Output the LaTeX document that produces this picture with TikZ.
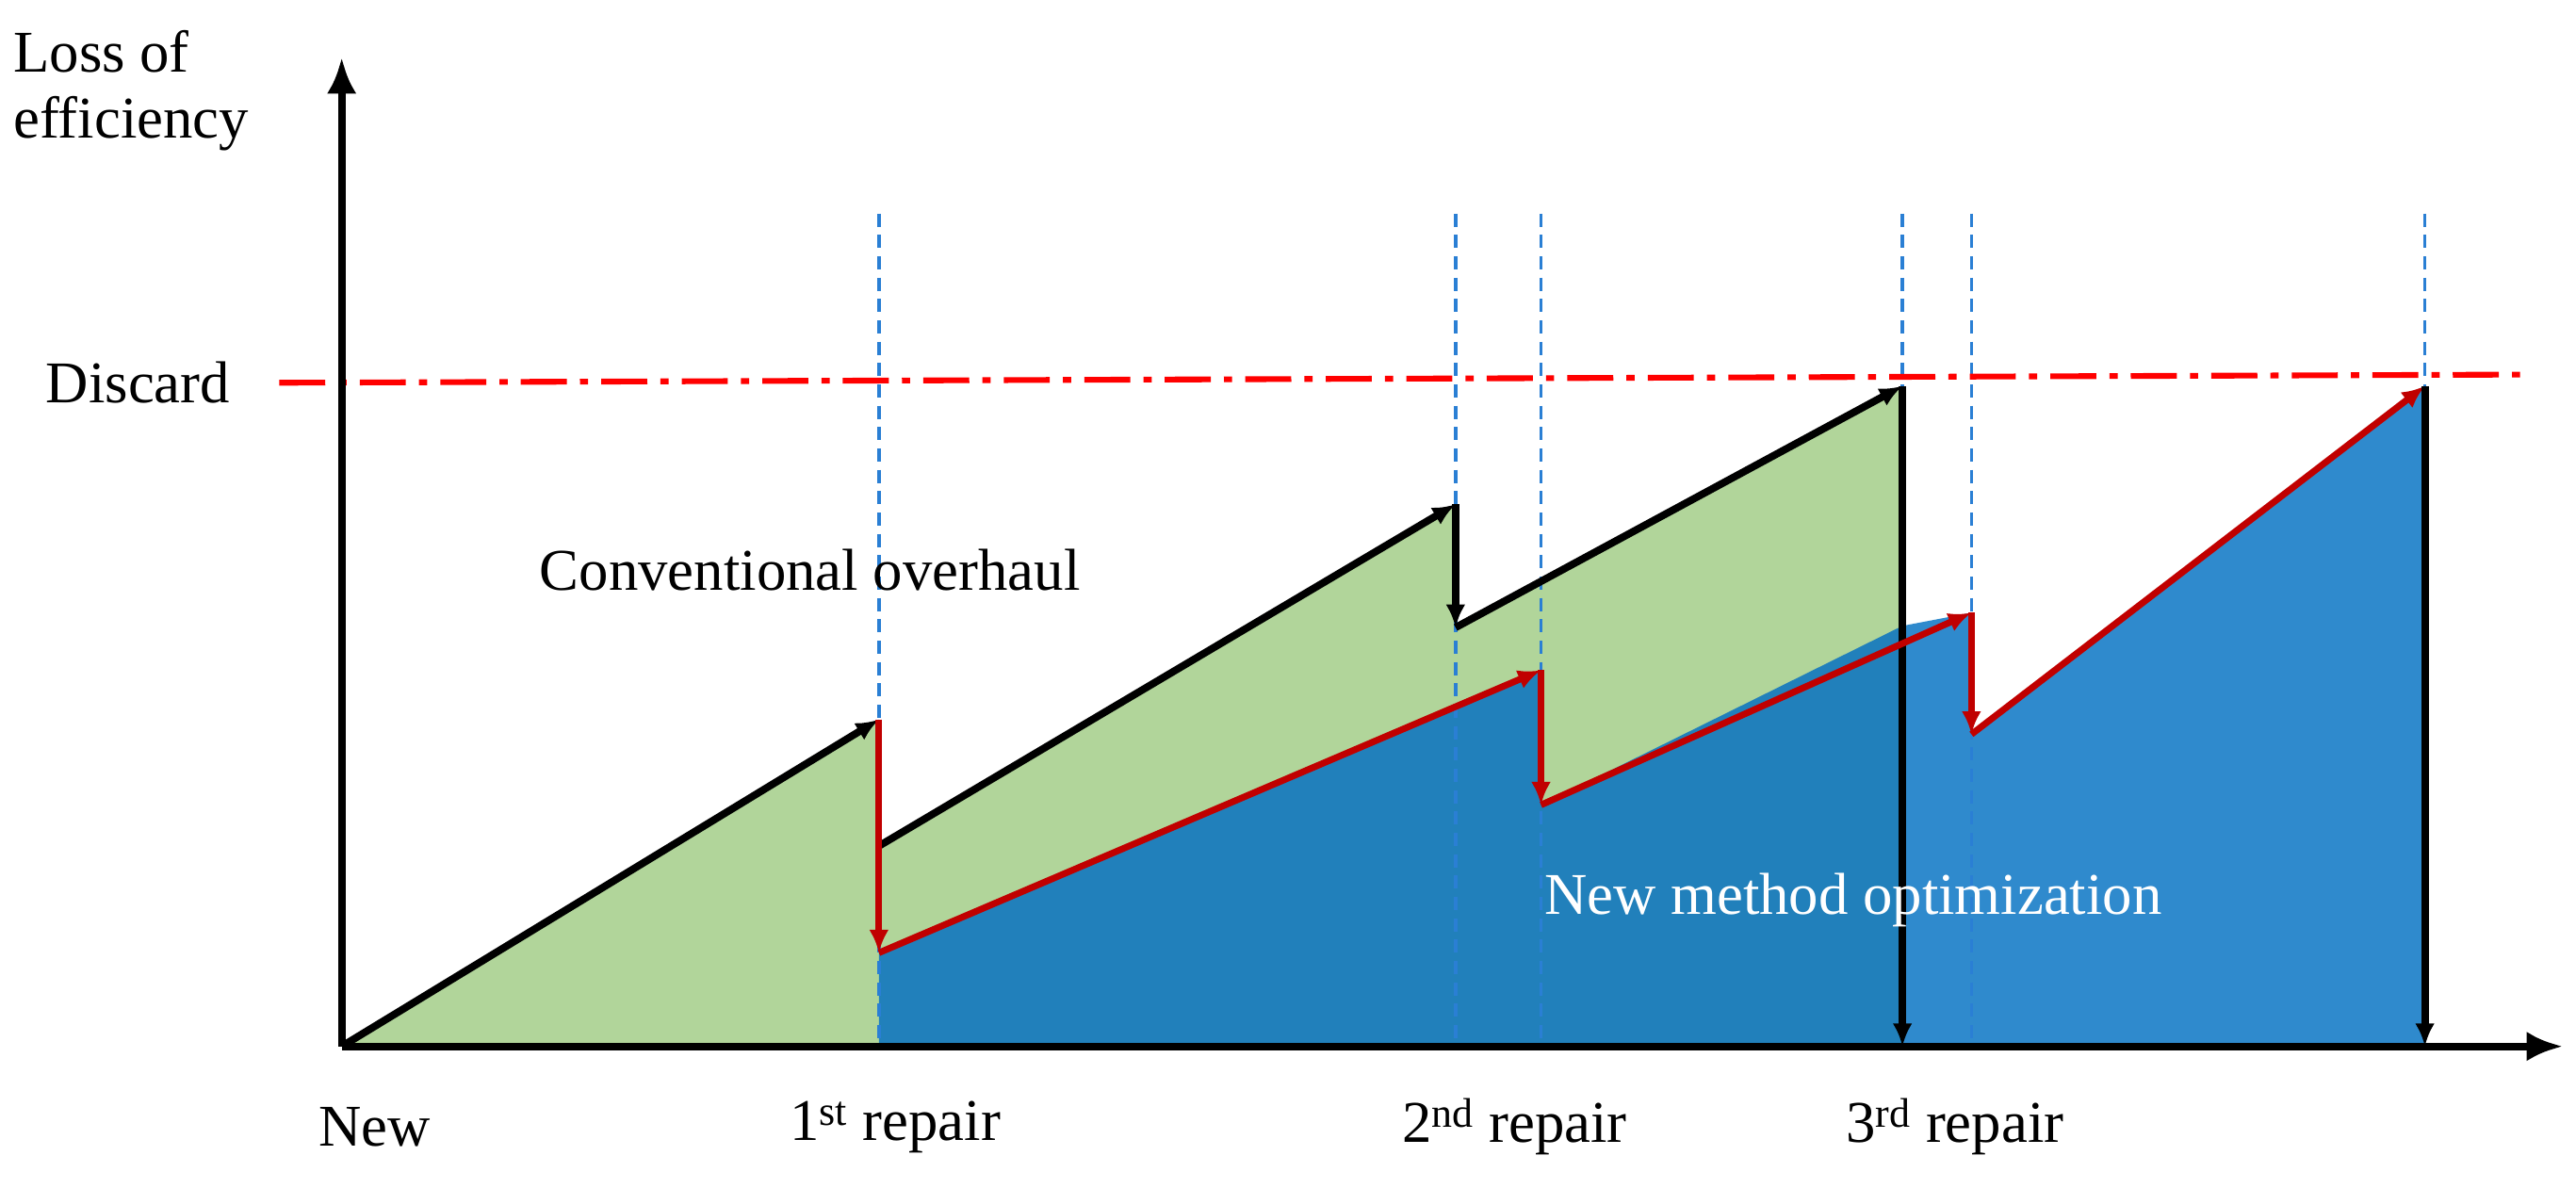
\documentclass[tikz,border=0pt]{standalone}
\usepackage{fontspec}
\setmainfont{Liberation Serif}
\usetikzlibrary{arrows.meta}
\definecolor{gfill}{HTML}{B1D59A}
\definecolor{bfillA}{HTML}{2180BB}
\definecolor{bfillB}{HTML}{2F8ACD}
\definecolor{dred}{HTML}{C00000}
\definecolor{dblue}{HTML}{2A7FD4}
\begin{document}
\begin{tikzpicture}[x=1pt,y=-1pt,
  lbl/.style={font=\fontsize{36}{40}\selectfont,inner sep=0pt},
  blk/.style={line width=4.5pt,-{Latex[length=14pt,width=12pt]}},
  red/.style={line width=4pt,dred,-{Latex[length=14pt,width=12pt]}},
  vd/.style={dblue,line width=2pt,dash pattern=on 8pt off 5pt}]
\useasboundingbox (0,0) rectangle (1568,723);
% coordinates
\coordinate (O) at (208,637);
\coordinate (c1) at (535,438); \coordinate (c1b) at (535,515);
\coordinate (c2) at (886,307); \coordinate (c2b) at (886,382);
\coordinate (c3) at (1158,235); \coordinate (c3b) at (1158,637);
\coordinate (n1) at (535,580); \coordinate (n1a) at (535,637);
\coordinate (n2) at (938,408); \coordinate (n2b) at (938,490);
\coordinate (n3) at (1200,373); \coordinate (n3b) at (1200,447);
\coordinate (n4) at (1476,235); \coordinate (n4b) at (1476,637);
\coordinate (m) at (1158,381);
% fills
\fill[gfill] (O) -- (c1) -- (c1b) -- (c2) -- (c2b) -- (c3) -- (c3b) -- cycle;
\fill[bfillA] (n1a) -- (n1) -- (n2) -- (n2b) -- (m) -- (c3b) -- cycle;
\fill[bfillB] (c3b) -- (m) -- (n3) -- (n3b) -- (n4) -- (n4b) -- cycle;
% dashed verticals
\foreach \x in {535,886,938,1158,1200,1476}
  \draw[vd] (\x,130) -- (\x,637);
% discard line
\draw[red!90!black,draw=red,line width=3.5pt,dash pattern=on 28pt off 8pt on 5pt off 8pt] (170,233) -- (1540,228);
% axes
\coordinate (yt) at (208,35); \coordinate (xt) at (1560,637);
\draw[line width=4.5pt,-{Latex[length=22pt,width=18pt]}] (O) -- (yt);
\draw[line width=4.5pt,-{Latex[length=22pt,width=18pt]}] (O) -- (xt);
% conventional
\draw[blk] (O) -- (c1);
\draw[blk] (c1b) -- (c2);
\draw[blk] (c2) -- (c2b);
\draw[blk] (c2b) -- (c3);
\draw[blk] (c3) -- (c3b);
% new method
\draw[red] (c1) -- (n1);
\draw[red] (n1) -- (n2);
\draw[red] (n2) -- (n2b);
\draw[red] (n2b) -- (n3);
\draw[red] (n3) -- (n3b);
\draw[red] (n3b) -- (n4);
\draw[blk] (n4) -- (n4b);
% labels
\node[lbl,anchor=west,align=left] (yl) at (8,55) {Loss of\\efficiency};
\node[lbl] (dc) at (84,233) {Discard};
\node[lbl] (co) at (493,347) {Conventional overhaul};
\node[lbl,white] (nm) at (1128,548) {New method optimization};
\node[lbl] (t0) at (228,686) {New};
\node[lbl] (t1) at (545,686) {1\textsuperscript{st} repair};
\node[lbl] (t2) at (922,686) {2\textsuperscript{nd} repair};
\node[lbl] (t3) at (1190,686) {3\textsuperscript{rd} repair};
\end{tikzpicture}
\end{document}
